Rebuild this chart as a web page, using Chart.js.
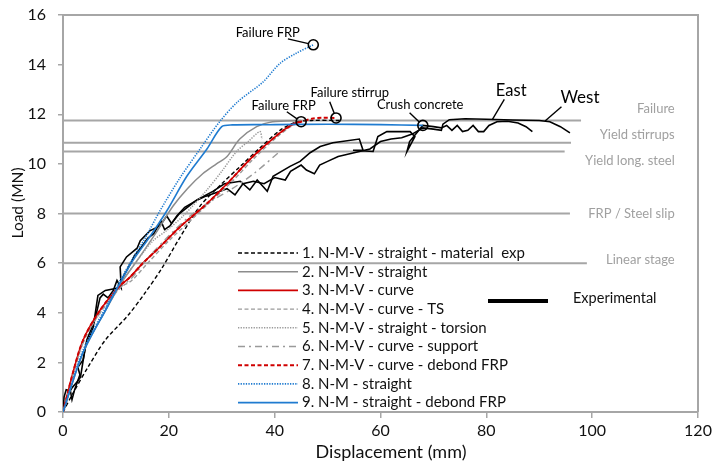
<!DOCTYPE html>
<html>
<head>
    <meta charset="UTF-8">
    <title>Load - displacement</title>
    <script src="https://cdn.jsdelivr.net/npm/chart.js@4.4.1/dist/chart.umd.min.js"></script>
    <style>
        body { margin: 0; background: #fff; }
        #wrap { width: 714px; height: 471px; }
    </style>
</head>
<body>
<div id="wrap"><canvas id="loadChart" width="714" height="471"></canvas></div>
<script>
    // Data: [displacement (mm), load (MN)]
    const m1 = [[0,0],[2,0.8],[4.7,1.8],[8,2.9],[12.3,3.9],[15.5,4.8],[18.7,5.8],[22,7.0],[25.9,8.3],[30,9.2],[33.5,9.9],[37,10.6],[41,11.35],[44,11.68],[47,11.75],[52.4,11.75]];
    const m2 = [[0,0],[3.8,2.4],[8.3,4.2],[11,5.2],[14,6.1],[17.5,7.2],[20.8,8.3],[23.5,9.0],[26.4,9.6],[29,10.0],[31,10.3],[33.4,11.0],[36.6,11.5],[39.6,11.7],[45,11.75]];
    const m3 = [[0,0],[1.9,1.6],[3.8,2.9],[7,4.1],[10.8,5.1],[12.5,5.4],[15.1,6.0],[18.3,6.65],[22.1,7.46],[27.2,8.4],[31,9.2],[35.9,10.3],[41,11.25],[43.5,11.6],[45,11.7]];
    const m4 = [[0,0],[1.9,1.5],[3.8,2.8],[7,4.0],[10.8,5.0],[13,5.3],[16,6.0],[20,6.9],[24,7.7],[28,8.5],[32,9.3],[36,10.2],[40,11.0],[43,11.5],[45,11.7]];
    const m5 = [[0,0],[3.8,2.4],[8.3,4.2],[11,5.2],[14,6.1],[17,6.9],[19.5,7.3],[22.7,7.9],[27.2,8.95],[30,9.7],[32.8,10.5],[35,10.9],[37.2,11.3],[37.6,11.0]];
    const m6 = [[0,0],[3.8,2.8],[7,4.0],[10.8,5.0],[13,5.4],[16,6.2],[20,7.1],[24,7.9],[28,8.5],[32,9.0],[36,9.6],[41,10.5]];
    const m7 = [[0,0],[1.9,1.6],[3.8,2.9],[7,4.1],[10.8,5.1],[12.5,5.4],[15.1,6.0],[18.3,6.65],[22.1,7.46],[27.2,8.4],[31,9.2],[35.9,10.3],[41,11.25],[43.5,11.6],[45,11.7],[47,11.82],[49,11.86],[51.6,11.85]];
    const m8 = [[0,0],[3.8,2.5],[8.3,4.3],[10.8,5.3],[13.2,6.2],[15.5,7.0],[18.3,8.1],[22,9.4],[25.9,10.6],[29.6,11.7],[33,12.5],[37.8,13.3],[41,14.05],[44,14.45],[47.3,14.8]];
    const m9 = [[0,0],[3.8,2.4],[8.3,4.2],[10.8,5.2],[13.2,6.1],[16.4,7.06],[19.6,8.1],[23.4,9.5],[27.2,10.6],[30,11.5],[32,11.57],[40,11.58],[50,11.6],[60,11.58],[68,11.55]];

    const expEast = [[0,0],[0.2,0.6],[0.6,0.9],[1.4,0.85],[1.7,0.5],[2.2,0.9],[3.2,1.5],[2.8,1.8],[3.8,2.1],[4.5,2.9],[6,3.7],[7,4.6],[7.6,4.75],[8.5,4.6],[9.5,4.9],[10.2,5.3],[11,5.0],[10.8,5.85],[12,6.25],[14,6.6],[14.6,6.9],[16.4,7.3],[18.3,7.5],[19.6,7.9],[20.5,7.6],[22,8.0],[25.3,8.55],[28.4,8.9],[30.5,9.2],[33.5,9.3],[35.3,8.95],[36.7,9.35],[38.6,8.9],[39.7,9.5],[42.9,9.9],[44.8,10.1],[46.7,10.45],[48.6,10.7],[51,10.85],[56,11.0],[56.7,10.55],[54.8,10.55],[58.6,10.5],[59.5,11.1],[61.2,11.3],[65.6,11.3],[66.5,11.1],[65,10.5],[65.5,10.9],[68,11.55],[70,11.5],[71.5,11.45],[72.5,11.55],[73.5,11.35],[74.5,11.55],[75.5,11.3],[76.5,11.35],[77.5,11.55],[78.5,11.3],[79.5,11.3],[80.5,11.55],[82,11.7],[84,11.72],[86,11.65],[87.5,11.5],[88.7,11.3]];
    const expWest = [[0,0],[0.5,0.3],[0.9,0.7],[1.8,1.0],[2.6,1.2],[3.3,1.4],[3.6,1.8],[4.2,2.6],[5.7,3.4],[6.6,4.7],[8,4.9],[10.4,5.0],[11.5,5.5],[12.8,6.0],[13.5,6.3],[15,6.7],[16,7.0],[17.2,7.2],[18.5,7.7],[19.2,7.35],[20.2,7.5],[21.5,7.9],[23,8.25],[25,8.5],[27,8.7],[29,8.85],[31,9.0],[32.5,8.75],[34,9.2],[36,9.3],[38,9.2],[40,9.45],[42,9.35],[43,9.7],[45,9.95],[46,9.75],[47.5,9.6],[48.5,9.95],[50,10.1],[52,10.3],[54,10.4],[56,10.5],[58,10.6],[60,10.9],[62,11.0],[64,11.05],[66,11.2],[68,11.45],[70,11.4],[71.5,11.35],[71.8,11.6],[73,11.78],[76,11.82],[80,11.8],[85,11.77],[90,11.75],[92,11.7],[94,11.5],[95.8,11.25]];

    // reference levels: load and end displacement
    const levelNames = ['Failure', 'Yield stirrups', 'Yield long. steel', 'FRP / Steel slip', 'Linear stage'];
    const levelLoads = [11.75, 10.85, 10.5, 8.0, 6.0];
    const levelEnds = [97.9, 96, 94.8, 95.8, 99];
    const levelLabelY = [12.22, 11.17, 10.12, 7.98, 6.13];

    // failure points
    const failurePts = [[47.3,14.8],[45,11.7],[51.6,11.85],[68,11.55]];
    const failureText = ['Failure FRP', 'Failure FRP', 'Failure stirrup', 'Crush concrete'];
    const failureTextPos = [[38.7,15.28],[41.7,12.34],[54.2,12.86],[67.5,12.38]];
    const failureLeadFrom = [[42.5,15.04],[42.3,12.1],[50.4,12.5],[65.5,12.06]];

    const legendNames = [
        '1. N-M-V - straight - material  exp',
        '2. N-M-V - straight',
        '3. N-M-V - curve',
        '4. N-M-V - curve - TS',
        '5. N-M-V - straight - torsion',
        '6. N-M-V - curve - support',
        '7. N-M-V - curve - debond FRP',
        '8. N-M - straight',
        '9. N-M - straight - debond FRP'
    ];

    const FONT = 'Lato, "Open Sans", sans-serif';
    const toXY = arr => arr.map(p => ({x: p[0], y: p[1]}));

    const modelStyles = [
        {color: '#000000', dash: [4, 2.5], width: 1.4},
        {color: '#8c8c8c', dash: [], width: 1.5},
        {color: '#d00000', dash: [], width: 1.6},
        {color: '#9a9a9a', dash: [4, 2.5], width: 1.4},
        {color: '#9a9a9a', dash: [1.3, 1.3], width: 1.5},
        {color: '#9a9a9a', dash: [7, 4, 2, 4], width: 1.4},
        {color: '#d00000', dash: [4, 2.5], width: 2},
        {color: '#1f7bd0', dash: [1.3, 1.3], width: 1.6},
        {color: '#1f7bd0', dash: [], width: 1.6}
    ];
    const models = [m1, m2, m3, m4, m5, m6, m7, m8, m9];

    const datasets = [];
    levelLoads.forEach((v, i) => {
        datasets.push({
            data: [{x: 0, y: v}, {x: levelEnds[i], y: v}],
            showLine: true, borderColor: '#a6a6a6', borderWidth: 2, pointRadius: 0, order: 100
        });
    });
    [expEast, expWest].forEach(e => {
        datasets.push({
            data: toXY(e), showLine: true, borderColor: '#000', borderWidth: 1.6,
            pointRadius: 0, tension: 0, order: 20
        });
    });
    models.forEach((m, i) => {
        const s = modelStyles[i];
        datasets.push({
            data: toXY(m), showLine: true, borderColor: s.color, borderDash: s.dash,
            borderWidth: s.width, pointRadius: 0, tension: 0.3, order: 10 - i
        });
    });
    datasets.push({
        data: toXY(failurePts), showLine: false, pointRadius: 5, pointBorderWidth: 1.6,
        pointBorderColor: '#000', pointBackgroundColor: 'rgba(0,0,0,0)', order: 0
    });

    const decor = {
        id: 'decor',
        beforeDatasetsDraw(chart) {
            const c = chart.ctx, a = chart.chartArea;
            c.save();
            c.strokeStyle = '#a6a6a6';
            c.lineWidth = 2;
            c.beginPath();
            c.moveTo(a.left, a.top); c.lineTo(a.right, a.top); c.lineTo(a.right, a.bottom);
            c.stroke();
            c.restore();
        },
        afterDatasetsDraw(chart) {
            const c = chart.ctx, xs = chart.scales.x, ys = chart.scales.y;
            const px = v => xs.getPixelForValue(v), py = v => ys.getPixelForValue(v);
            c.save();
            // leader lines
            c.strokeStyle = '#000';
            c.lineWidth = 1.4;
            const lead = (x0, y0, x1, y1, r) => {
                const X0 = px(x0), Y0 = py(y0), X1 = px(x1), Y1 = py(y1);
                const d = Math.hypot(X1 - X0, Y1 - Y0);
                c.beginPath();
                c.moveTo(X0, Y0);
                c.lineTo(X1 - (X1 - X0) * r / d, Y1 - (Y1 - Y0) * r / d);
                c.stroke();
            };
            failurePts.forEach((p, i) => lead(failureLeadFrom[i][0], failureLeadFrom[i][1], p[0], p[1], 5));
            lead(83.4, 12.6, 81.1, 11.77, 0);
            lead(94.2, 12.3, 91.1, 11.73, 0);

            c.fillStyle = '#000';
            c.textAlign = 'center';
            c.textBaseline = 'middle';
            c.font = '13px ' + FONT;
            failureText.forEach((t, i) => c.fillText(t, px(failureTextPos[i][0]), py(failureTextPos[i][1])));
            c.font = '16.5px ' + FONT;
            c.fillText('East', px(84.7), py(12.94));
            c.font = '17px ' + FONT;
            c.fillText('West', px(97.7), py(12.66));

            // level labels
            c.fillStyle = '#a0a0a0';
            c.font = '13px ' + FONT;
            c.textAlign = 'right';
            levelNames.forEach((t, i) => c.fillText(t, px(115.6), py(levelLabelY[i])));

            // legend
            c.textAlign = 'left';
            c.font = '15px ' + FONT;
            legendNames.forEach((t, i) => {
                const s = modelStyles[i];
                const y = 253 + i * 18.7;
                c.strokeStyle = s.color;
                c.lineWidth = s.width;
                c.setLineDash(s.dash);
                c.beginPath(); c.moveTo(238, y); c.lineTo(298, y); c.stroke();
                c.fillStyle = '#111';
                c.fillText(t, 302, y);
            });
            c.setLineDash([]);
            c.strokeStyle = '#000';
            c.lineWidth = 4;
            c.beginPath(); c.moveTo(488, 301); c.lineTo(548, 301); c.stroke();
            c.font = '14.5px ' + FONT;
            c.fillText('Experimental', 573, 298);

            // axis titles
            c.font = '18px ' + FONT;
            c.textAlign = 'center';
            c.fillText('Displacement (mm)', 391, 452);
            c.font = '15.5px ' + FONT;
            c.translate(18, 203);
            c.rotate(-Math.PI / 2);
            c.fillText('Load (MN)', 0, 0);
            c.restore();
        }
    };

    new Chart(document.getElementById('loadChart'), {
        type: 'scatter',
        data: {datasets: datasets},
        options: {
            responsive: false,
            devicePixelRatio: 1,
            animation: false,
            layout: {padding: {top: 15, right: 16, left: 0, bottom: 0}},
            plugins: {legend: {display: false}, tooltip: {enabled: false}},
            scales: {
                x: {
                    type: 'linear', min: 0, max: 120,
                    ticks: {stepSize: 20, color: '#111', font: {size: 16, family: FONT}, padding: 3},
                    grid: {drawOnChartArea: false, color: '#a6a6a6', tickLength: 6, lineWidth: 1.5},
                    border: {color: '#a6a6a6', width: 2},
                    afterFit: s => { s.height = 59; s.paddingLeft = 0; s.paddingRight = 0; }
                },
                y: {
                    min: 0, max: 16,
                    ticks: {stepSize: 2, color: '#111', font: {size: 16, family: FONT}, padding: 12},
                    grid: {drawOnChartArea: false, color: '#a6a6a6', tickLength: 5, lineWidth: 1.5},
                    border: {color: '#a6a6a6', width: 2},
                    afterFit: s => { s.width = 63; s.paddingTop = 0; s.paddingBottom = 0; }
                }
            }
        },
        plugins: [decor]
    });
</script>
</body>
</html>
